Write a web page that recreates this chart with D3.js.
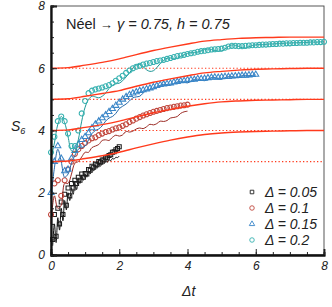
<!DOCTYPE html>
<html>
<head>
<meta charset="utf-8">
<script src="https://cdn.jsdelivr.net/npm/d3@7"></script>
<style>
body { margin:0; background:#fff; }
svg text { font-family: "Liberation Sans", Arial, sans-serif; fill:#222; }
</style>
</head>
<body>
<div id="chart"></div>
<script>
const width = 332
const height = 307
const margin = { top:6, bottom:52, left:51, right:8 }

// legend entries
const deltas = ["0.05", "0.1", "0.15", "0.2"]

// time grid of the theory curves
const thT = [0,0.5,1,1.5,2,2.5,3,3.5,4,4.5,5,5.5,6,6.5,7,7.5,8]
const theory3 = [3.0,3.02,3.1,3.19,3.3,3.44,3.57,3.69,3.79,3.87,3.92,3.95,3.97,3.98,3.99,4.0,4.0]
const theory4 = [4.0,4.02,4.1,4.19,4.3,4.44,4.57,4.68,4.78,4.86,4.92,4.95,4.97,4.98,4.99,5.0,5.0]
const theory5 = [5.0,5.02,5.1,5.19,5.28,5.42,5.55,5.66,5.76,5.85,5.9,5.94,5.97,5.98,5.99,6.0,6.0]
const theory6 = [6.0,6.02,6.1,6.19,6.3,6.44,6.57,6.68,6.78,6.87,6.92,6.96,6.98,6.99,7.0,7.0,7.0]
const baselines = [3, 4, 5, 6]

// delta = 0.05, sampled every 0.05 from t = 0.05
const black = [0.5,1.3,0.6,1.5,1.0,1.7,1.3,1.95,1.6,2.15,1.9,2.3,2.15,2.4,2.3,2.5,2.4,2.6,2.5,2.62,
  2.6,2.75,2.72,2.85,2.82,2.92,2.9,3.0,2.98,3.05,3.05,3.12,3.14,3.2,3.22,3.3,3.32,3.38,3.42,3.48]
const blackLine = [0.3,1.0,0.4,1.2,0.8,1.5,1.1,1.75,1.45,2.0,1.75,2.15,1.95,2.3,2.1,2.45,2.3,2.55,2.4,2.6,
  2.5,2.7,2.6,2.78,2.7,2.85,2.78,2.92,2.85,2.97,2.92,3.02,2.98,3.06,3.03,3.1,3.08,3.14,3.13,3.18]

// delta = 0.1, sampled every 0.1 from t = 0
const red = [1.3,2.3,2.4,1.9,2.4,2.75,3.0,3.25,3.4,3.5,3.6,3.68,3.75,3.78,3.85,3.9,3.95,3.98,4.03,4.07,
  4.1,4.15,4.2,4.27,4.32,4.38,4.43,4.48,4.52,4.56,4.6,4.63,4.66,4.69,4.72,4.74,4.76,4.78,4.8,4.81,4.83]
const redLine = [1.0,1.9,1.5,1.6,2.3,2.3,2.6,2.95,3.0,3.15,3.3,3.3,3.45,3.5,3.55,3.68,3.7,3.68,3.78,3.85,
  3.82,3.86,3.97,3.95,3.98,4.05,4.08,4.06,4.12,4.2,4.18,4.22,4.3,4.29,4.32,4.4,4.42,4.45,4.55,4.6,4.62]

// delta = 0.15
const blue = [2.0,3.0,3.5,3.1,2.7,2.75,3.1,3.35,3.55,3.7,3.8,3.92,4.08,4.2,4.3,4.4,4.5,4.6,4.7,4.8,
  4.9,5.0,5.08,5.15,5.2,5.24,5.28,5.3,5.33,5.36,5.4,5.44,5.47,5.49,5.5,5.52,5.55,5.57,5.59,5.6,
  5.62,5.63,5.64,5.66,5.66,5.67,5.69,5.7,5.71,5.7,5.72,5.73,5.73,5.74,5.75,5.76,5.77,5.77,5.78,5.79,5.8]
const blueLine = [1.8,2.8,3.4,3.0,2.5,2.6,2.95,3.2,3.4,3.45,3.5,3.7,3.9,4.0,4.05,4.15,4.3,4.4,4.45,4.55,
  4.7,4.78,4.85,4.95,5.05,5.08,5.1,5.2,5.3,5.32,5.33,5.38,5.45,5.48,5.47,5.46,5.5,5.56,5.58,5.55,
  5.53,5.58,5.64,5.65,5.62,5.6,5.64,5.7,5.7,5.66,5.65,5.69,5.73,5.73,5.7,5.72,5.76,5.77,5.76,5.77,5.79]

// delta = 0.2
const teal = [3.3,3.8,4.3,4.45,4.3,3.9,3.5,3.5,4.0,4.55,4.95,5.2,5.28,5.32,5.35,5.38,5.42,5.46,5.52,5.6,
  5.68,5.76,5.85,5.93,6.0,6.05,6.08,6.12,6.15,6.17,6.2,6.23,6.25,6.27,6.3,6.33,6.36,6.39,6.41,6.43,
  6.46,6.48,6.5,6.53,6.55,6.56,6.58,6.6,6.61,6.62,6.63,6.66,6.7,6.72,6.72,6.71,6.71,6.72,6.73,6.74,
  6.74,6.75,6.76,6.76,6.77,6.78,6.78,6.79,6.79,6.8,6.8,6.81,6.81,6.82,6.82,6.82,6.83,6.83,6.84,6.84,6.85]
const tealLine = [3.1,3.6,4.2,4.45,4.25,3.8,3.35,3.3,3.7,4.3,4.75,5.0,5.1,5.08,5.05,5.1,5.2,5.35,5.45,5.5,
  5.52,5.6,5.72,5.85,6.0,6.1,6.12,6.05,5.95,5.9,5.92,6.02,6.15,6.25,6.32,6.33,6.3,6.32,6.38,6.43,
  6.48,6.5,6.5,6.52,6.56,6.6,6.62,6.6,6.57,6.55,6.56,6.62,6.7,6.75,6.74,6.7,6.66,6.65,6.69,6.73,
  6.75,6.76,6.76,6.77,6.78,6.78,6.79,6.8,6.8,6.81,6.81,6.82,6.82,6.82,6.83,6.83,6.84,6.84,6.84,6.85,6.85]

const svg = d3.select("div#chart").append("svg").attr("width",width).attr("height",height)

const x = d3.scaleLinear().domain([0,8]).range([margin.left, width - margin.right])
const y = d3.scaleLinear().domain([0,8]).range([height - margin.bottom, margin.top])

const theoryColor = "#ff3a1c"

// frame
svg.append("rect")
    .attr("x", x(0)).attr("y", y(8))
    .attr("width", x(8) - x(0)).attr("height", y(0) - y(8))
    .attr("fill","none").attr("stroke","#444").attr("stroke-width",0.9)

// dotted baselines
svg.append("g").selectAll("line").data(baselines).enter().append("line")
    .attr("x1", x(0)).attr("x2", x(8))
    .attr("y1", d => y(d)).attr("y2", d => y(d))
    .attr("stroke", theoryColor).attr("stroke-width",1.1).attr("stroke-dasharray","1.3,2.2")

const grid = (n, step, start) => d3.range(n).map(i => start + i*step)

const series = [
    { name:deltas[0], v:black, lv:blackLine, t:grid(black.length,0.05,0.05), color:"#1e1e1e", lineColor:"#111", shape:d3.symbolSquare, size:16 },
    { name:deltas[1], v:red, lv:redLine, t:grid(red.length,0.1,0), color:"#c0473d", lineColor:"#9b2a24", shape:d3.symbolCircle, size:20 },
    { name:deltas[2], v:blue, lv:blueLine, t:grid(blue.length,0.1,0), color:"#3a86c8", lineColor:"#2467a8", shape:d3.symbolTriangle, size:16 },
    { name:deltas[3], v:teal, lv:tealLine, t:grid(teal.length,0.1,0), color:"#36b1b0", lineColor:"#1f9897", shape:d3.symbolCircle, size:20 }
]

const line = d3.line().x(d => x(d[0])).y(d => y(d[1])).curve(d3.curveCatmullRom)

const dataGroup = svg.append("g").attr("class","dataGroup")
series.forEach(s => {
    const pts = s.t.map((t,i) => [t, s.lv[i]])
    dataGroup.append("path")
        .attr("d", line(pts))
        .attr("fill","none").attr("stroke", s.lineColor).attr("stroke-width",1)
    dataGroup.append("g").selectAll("path").data(s.t.map((t,i) => [t, s.v[i]])).enter()
        .append("path")
        .attr("transform", d => `translate(${x(d[0])},${y(d[1])})`)
        .attr("d", d3.symbol().type(s.shape).size(s.size))
        .attr("fill","none").attr("stroke", s.color).attr("stroke-width",1.05)
})

// theory curves
const thLine = d3.line().x(d => x(d[0])).y(d => y(d[1])).curve(d3.curveMonotoneX)
const theories = [theory3, theory4, theory5, theory6]
svg.append("g").selectAll("path").data(theories).enter().append("path")
    .attr("d", d => thLine(thT.map((t,i) => [t, d[i]])))
    .attr("fill","none").attr("stroke", theoryColor).attr("stroke-width",1.4)

// axes with inward ticks
const majorTicks = [0,2,4,6,8]
const minorTicks = d3.range(0, 8.01, 0.5)

const xAxisGroup = svg.append("g").attr("transform",`translate(0,${y(0)})`)
xAxisGroup.call(d3.axisBottom(x).tickValues(minorTicks).tickSize(-3).tickFormat(""))
xAxisGroup.call(g => g.append("g").call(d3.axisBottom(x).tickValues(majorTicks).tickSize(-6).tickPadding(6).tickFormat(d3.format("d"))))

const yAxisGroup = svg.append("g").attr("transform",`translate(${x(0)},0)`)
yAxisGroup.call(d3.axisLeft(y).tickValues(minorTicks).tickSize(-3).tickFormat(""))
yAxisGroup.call(g => g.append("g").call(d3.axisLeft(y).tickValues(majorTicks).tickSize(-6).tickPadding(6).tickFormat(d3.format("d"))))

svg.selectAll(".domain").attr("stroke","#111").attr("stroke-width",1.8)
svg.selectAll(".tick line").attr("stroke","#222").attr("stroke-width",1)
svg.selectAll(".tick text").attr("font-size",12).attr("font-style","italic")
    .attr("font-family",'"Liberation Sans", Arial, sans-serif').attr("fill","#222")

// title
const title = svg.append("text").attr("x",66).attr("y",29).attr("font-size",14.5)
title.append("tspan").text("Néel ")
title.append("tspan").text("→").attr("font-size",13).attr("font-weight","bold")
title.append("tspan").text(" γ = 0.75, h = 0.75").attr("font-style","italic")

// axis titles
const yTitle = svg.append("text").attr("x",11).attr("y",131).attr("font-size",14).attr("font-style","italic")
yTitle.append("tspan").text("S")
yTitle.append("tspan").text("6").attr("font-size",9).attr("dy",3)

svg.append("text").attr("x",182).attr("y",296).attr("font-size",14).attr("font-style","italic").text("Δt")

// legend
const legend = svg.append("g").selectAll("g").data(series).enter().append("g")
    .attr("transform",(d,i) => `translate(252,${192 + i*16})`)
legend.append("path")
    .attr("d", d => d3.symbol().type(d.shape).size(d.size * 0.8)())
    .attr("fill","none").attr("stroke", d => d.color).attr("stroke-width",0.9)
legend.append("text").attr("x",13).attr("y",4.5).attr("font-size",14).attr("font-style","italic")
    .attr("fill","#333")
    .text(d => "Δ = " + d.name)
</script>
</body>
</html>
